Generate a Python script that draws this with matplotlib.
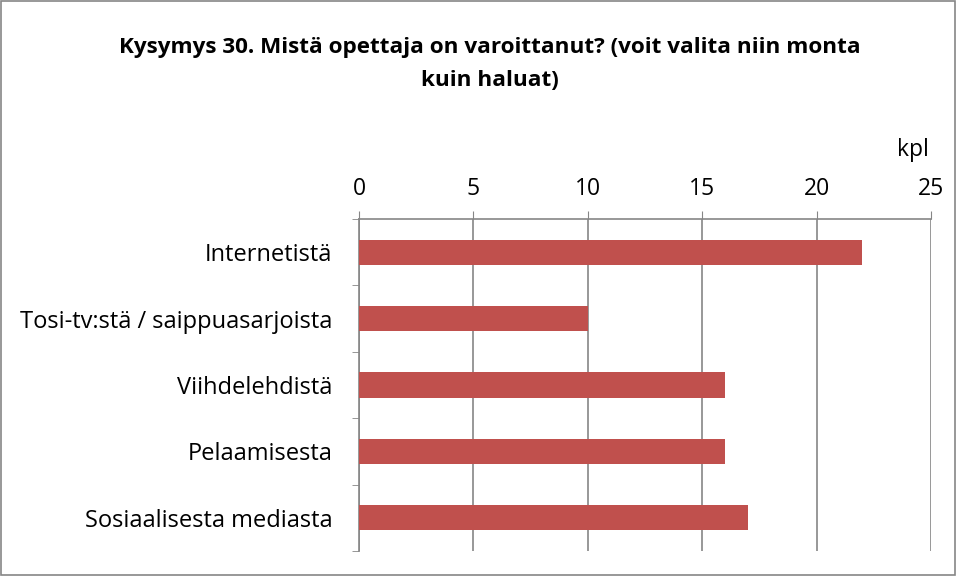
import matplotlib.pyplot as plt
from matplotlib.patches import Rectangle

categories = ['Internetistä', 'Tosi-tv:stä / saippuasarjoista', 'Viihdelehdistä',
              'Pelaamisesta', 'Sosiaalisesta mediasta']
values = [22, 10, 16, 16, 17]
xticks = [0, 5, 10, 15, 20, 25]

plt.rcParams['font.family'] = ['Open Sans', 'DejaVu Sans']
grey = '#868686'

fig = plt.figure(figsize=(9.57, 5.76), dpi=100)
ax = fig.add_axes([359 / 957, 1 - 551 / 576, (931 - 359) / 957, (551 - 219) / 576])

ypos = list(range(len(categories)))
ax.barh(ypos, values, height=0.38, color='#C0504D', zorder=3)
ax.set_ylim(len(categories) - 0.5, -0.5)
ax.set_xlim(0, 25)
ax.set_xticks(xticks)
ax.xaxis.tick_top()
ax.tick_params(axis='x', length=6, color=grey, labelsize=16.5, pad=7, direction='out')
ax.set_yticks(ypos)
ax.set_yticklabels(categories)
ax.tick_params(axis='y', which='major', length=0, labelsize=17, pad=19)
ax.set_yticks([i - 0.5 for i in range(len(categories) + 1)], minor=True)
ax.tick_params(axis='y', which='minor', length=5, color=grey)
ax.grid(axis='x', color=grey, linewidth=1.2, zorder=0)
for s in ['right', 'bottom']:
    ax.spines[s].set_visible(False)
for s in ['top', 'left']:
    ax.spines[s].set_color(grey)
    ax.spines[s].set_linewidth(1.2)

fig.text(490 / 957, 1 - 47 / 576, 'Kysymys 30. Mistä opettaja on varoittanut? (voit valita niin monta',
         ha='center', va='center', fontsize=16.2, fontweight='bold')
fig.text(490 / 957, 1 - 80 / 576, 'kuin haluat)', ha='center', va='center', fontsize=16.2, fontweight='bold')
fig.text(913 / 957, 1 - 150 / 576, 'kpl', ha='center', va='center', fontsize=16.5)

fig.patches.append(Rectangle((0.001, 0.001), 0.997, 0.997, transform=fig.transFigure,
                             fill=False, edgecolor=grey, linewidth=1.2))

fig.savefig('out.png', dpi=100)
